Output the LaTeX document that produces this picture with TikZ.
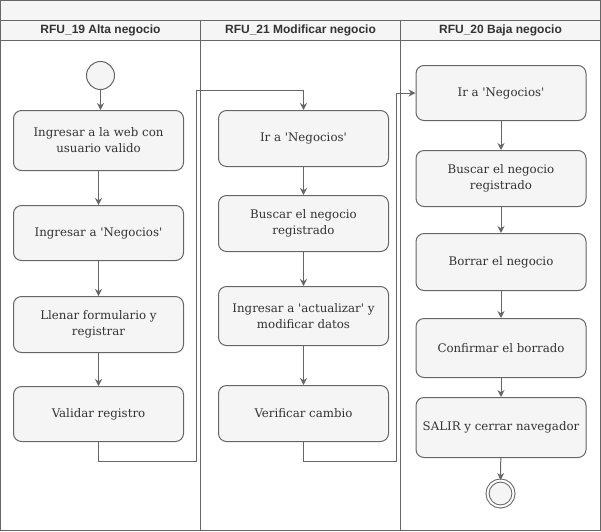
\documentclass[tikz,border=0pt]{standalone}
\usepackage{fontspec}
\setmainfont{DejaVu Serif}
\newfontfamily\lanefont{Liberation Sans}
\usepackage{xcolor}
\usetikzlibrary{arrows.meta,positioning}
\definecolor{boxfill}{HTML}{F5F5F5}
\definecolor{boxline}{HTML}{666666}
\definecolor{boxtext}{HTML}{333333}
\newcommand{\qt}{\textquotesingle}
\tikzset{
  actbox/.style={draw=boxline,fill=boxfill,rounded corners=8pt,minimum width=170pt,minimum height=56pt,
    align=center,text=boxtext,font=\fontsize{11.8}{16}\selectfont,inner sep=0pt},
  flow/.style={draw=boxline,line width=1pt,-{Stealth[length=7pt,width=7pt]}},
  lanehead/.style={font=\lanefont\bfseries\fontsize{12}{14}\selectfont,text=boxtext},
  startnode/.style={circle,draw=boxline,fill=boxfill,minimum size=28pt,inner sep=0pt},
  endnode/.style={circle,draw=boxline,double=white,double distance=2pt,fill=boxfill,minimum size=26pt,inner sep=0pt}
}

\begin{document}
\begin{tikzpicture}[x=1pt,y=-1pt,line width=1pt]
    \useasboundingbox (-0.5,-0.5) rectangle (600.5,530.5);
    % pool and lanes
    \fill[boxfill] (0,0) rectangle (600,40);
    \draw[boxline] (0,0) rectangle (600,530);
    \draw[boxline] (0,20) -- (600,20);
    \draw[boxline] (0,40) -- (600,40);
    \draw[boxline] (200,20) -- (200,530);
    \draw[boxline] (400,20) -- (400,530);
    \node[lanehead] (h19) at (100,30) {RFU\_19 Alta negocio};
    \node[lanehead] (h21) at (300,30) {RFU\_21 Modificar negocio};
    \node[lanehead] (h20) at (500,30) {RFU\_20 Baja negocio};
    % alta
    \node[startnode] (ini) at (100,75) {};
    \node[actbox,minimum height=60pt] (a1) at (98,140) {Ingresar a la web con\\usuario valido};
    \node[actbox,minimum height=55pt] (a2) at (98,232.5) {Ingresar a \qt Negocios\qt};
    \node[actbox] (a3) at (98,324) {Llenar formulario y\\registrar};
    \node[actbox,minimum height=55pt] (a4) at (98,413.5) {Validar registro};
    % modificar
    \node[actbox] (b1) at (303,138) {Ir a \qt Negocios\qt};
    \node[actbox] (b2) at (303,223) {Buscar el negocio\\registrado};
    \node[actbox,minimum height=59pt] (b3) at (303,315.5) {Ingresar a \qt actualizar\qt{} y\\modificar datos};
    \node[actbox] (b4) at (303,413) {Verificar cambio};
    % baja
    \node[actbox,minimum height=55pt] (c1) at (500.5,92.5) {Ir a \qt Negocios\qt};
    \node[actbox] (c2) at (500.5,178) {Buscar el negocio\\registrado};
    \node[actbox,minimum height=57pt] (c3) at (500.5,261.5) {Borrar el negocio};
    \node[actbox,minimum height=59pt] (c4) at (500.5,347.5) {Confirmar el borrado};
    \node[actbox,minimum height=60pt] (c5) at (500.5,427) {SALIR y cerrar navegador};
    \node[endnode] (fin) at (500,493) {};
    % connectors
    \coordinate (j1a) at (196,461);
    \coordinate (j1b) at (196,90);
    \coordinate (j2a) at (396,461);
    \coordinate (j2b) at (396,92.5);
    \draw[flow] (ini) -- (ini |- a1.north);
    \draw[flow] (a1) -- (a2);
    \draw[flow] (a2) -- (a3);
    \draw[flow] (a3) -- (a4);
    \draw[flow] (a4.south) |- (j1a) -- (j1b) -| (b1.north);
    \draw[flow] (b1) -- (b2);
    \draw[flow] (b2) -- (b3);
    \draw[flow] (b3) -- (b4);
    \draw[flow] (b4.south) |- (j2a) -- (j2b) -- (c1.west);
    \draw[flow] (c1) -- (c2);
    \draw[flow] (c2) -- (c3);
    \draw[flow] (c3) -- (c4);
    \draw[flow] (c4) -- (c5);
    \draw[flow] (c5) -- (fin);
\end{tikzpicture}
\end{document}
